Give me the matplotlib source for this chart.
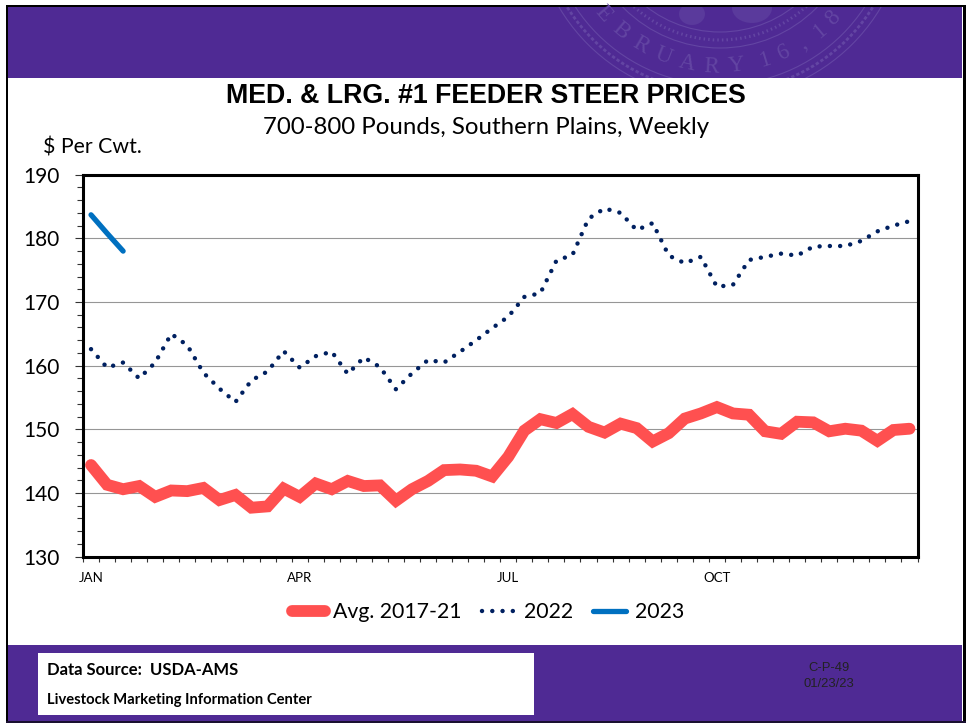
# libraries
import numpy as np
from matplotlib import pyplot as plt
from matplotlib.patches import Rectangle, Circle, Ellipse


W, H = 966, 723

avg_2017_21 = [144.4, 141.3, 140.6, 141.1, 139.4, 140.4, 140.3, 140.8, 138.9, 139.7,
	137.7, 137.9, 140.7, 139.4, 141.5, 140.6, 141.9, 141.1, 141.2, 138.8,
	140.6, 141.9, 143.6, 143.7, 143.5, 142.6, 145.7, 149.8, 151.6, 151.0,
	152.4, 150.4, 149.5, 150.9, 150.2, 148.1, 149.4, 151.7, 152.5, 153.5,
	152.5, 152.3, 149.7, 149.3, 151.2, 151.1, 149.7, 150.1, 149.8, 148.2,
	149.9, 150.1]
prices_2022 = [162.6, 159.7, 160.5, 158.0, 160.5, 165.0, 163.2, 158.9, 156.4, 154.3,
	157.7, 159.1, 162.3, 159.7, 161.5, 162.2, 158.7, 161.3, 159.8, 156.3,
	158.8, 160.9, 160.5, 162.2, 164.0, 165.9, 167.7, 170.8, 171.4, 176.5,
	177.4, 183.1, 184.7, 184.0, 181.3, 182.4, 177.3, 176.1, 177.1, 172.4,
	172.7, 176.6, 177.1, 177.6, 177.3, 178.7, 178.8, 178.8, 179.6, 181.1,
	182.0, 182.7]
prices_2023 = [183.7, 180.8, 178.0]

month_labels = ['JAN', 'APR', 'JUL', 'OCT']
month_weeks = [0, 13, 26, 39]
y_ticks = [130, 140, 150, 160, 170, 180, 190]

purple = '#4F2A94'
seal = '#6345A3'

plt.rcParams['font.family'] = ['Lato', 'DejaVu Sans']

fig = plt.figure(figsize=(W / 100, H / 100), dpi=100)

# background slide, drawn in pixel coordinates
bg = fig.add_axes([0, 0, 1, 1])
bg.set_xlim(0, W)
bg.set_ylim(H, 0)
bg.axis('off')
bg.add_patch(Rectangle((0, 0), W, H, fc='white', ec='none'))
band = bg.add_patch(Rectangle((7, 6), W - 11, 72, fc=purple, ec='none'))
bg.add_patch(Rectangle((7, 645), W - 11, 77, fc=purple, ec='none'))

# faint seal in the top band
sx, sy = 720, -88
for r, lw, ls in [(187, 0.8, '-'), (173, 0.8, '-'), (180, 2.0, (0, (1.2, 0.8))),
		(136, 0.8, '-'), (120, 0.8, '-'), (128, 2.2, (0, (0.5, 1.0)))]:
	ring = bg.add_patch(Circle((sx, sy), r, fc='none', ec=seal, lw=lw, ls=ls))
	ring.set_clip_path(band)
for x0, y0, w0, h0 in [(692, 14, 26, 22), (752, 8, 40, 30)]:
	blob = bg.add_patch(Ellipse((x0, y0), w0, h0, fc='#5A3A9C', ec='none'))
	blob.set_clip_path(band)

seal_chars = list('EBRUARY') + list('16,') + list('18')
seal_angles = list(np.linspace(139, 84, 7)) + list(np.linspace(73, 58, 3)) + [50, 43]
for ch, a in zip(seal_chars, seal_angles):
	t = bg.text(sx + 155 * np.cos(np.radians(a)), sy + 155 * np.sin(np.radians(a)), ch,
		color=seal, fontsize=16.5, family='Liberation Serif', rotation=90 - a,
		ha='center', va='center', rotation_mode='anchor')
	t.set_clip_path(band)

# black slide frame
bg.add_patch(Rectangle((6, 5), 2, H - 6, fc='black', ec='none'))
bg.add_patch(Rectangle((W - 3, 5), 3, H - 5, fc='black', ec='none'))
bg.add_patch(Rectangle((6, 5), W - 6, 2.2, fc='black', ec='none'))
bg.add_patch(Rectangle((6, H - 2), W - 6, 2, fc='#1A1030', ec='none'))

bg.add_patch(Rectangle((38, 653), 496, 62, fc='white', ec='none'))
bg.text(47, 670, 'Data Source:  USDA-AMS', fontsize=12, fontweight='bold', va='center')
bg.text(47, 700, 'Livestock Marketing Information Center', fontsize=10.6, fontweight='bold', va='center')
bg.text(829, 668, 'C-P-49', fontsize=9.4, family='Liberation Sans', color='#222222', ha='center', va='center')
bg.text(829, 684, '01/23/23', fontsize=9.4, family='Liberation Sans', color='#222222', ha='center', va='center')

bg.text(486, 96, 'MED. & LRG. #1 FEEDER STEER PRICES', fontsize=19.25, fontweight='bold',
	family='Liberation Sans', ha='center', va='center')
bg.text(486, 128, '700-800 Pounds, Southern Plains, Weekly', fontsize=17.3, ha='center', va='center')
bg.text(43, 148, '$ Per Cwt.', fontsize=15.3, va='center')

# the chart itself
left, right, top, bottom = 83, 917.5, 174.7, 556.7
ax = fig.add_axes([left / W, 1 - bottom / H, (right - left) / W, (bottom - top) / H])
ax.patch.set_alpha(0)

weeks = np.arange(52)
ax.plot(weeks, avg_2017_21, color='#FF5050', lw=8.5, solid_capstyle='round',
	solid_joinstyle='miter', label='Avg. 2017-21')
ax.plot(weeks, prices_2022, color='#002060', lw=3.2, linestyle=(0, (0.01, 2.3)),
	dash_capstyle='round', label='2022')
ax.plot(weeks[:len(prices_2023)], prices_2023, color='#0070C0', lw=3.8,
	solid_capstyle='round', label='2023')

ax.set_xlim(-0.5, 51.5)
ax.set_ylim(130, 190)
ax.set_yticks(y_ticks)
ax.set_yticks(np.arange(130, 191, 2), minor=True)
ax.set_xticks(np.arange(-0.5, 52, 1), minor=True)
ax.set_xticks(month_weeks)
ax.set_xticklabels(month_labels, fontsize=9.5)
ax.tick_params(axis='x', which='major', length=0, pad=11)
ax.tick_params(axis='x', which='minor', length=3.5, width=0.8, color='#333333')
ax.tick_params(axis='y', which='major', length=5.8, width=0.8, labelsize=15, pad=11, color='#333333')
ax.tick_params(axis='y', which='minor', length=4.3, width=0.8, color='#333333')
ax.grid(axis='y', which='major', color='#969696', lw=0.8, zorder=0)
ax.set_axisbelow(True)
for s in ax.spines.values():
	s.set_linewidth(2.2)

handles, labels = ax.get_legend_handles_labels()
fig.legend(handles, labels, loc='center', bbox_to_anchor=(488 / W, 1 - 612 / H), ncol=3,
	frameon=False, fontsize=15.3, handlelength=1.55, handletextpad=0.42, columnspacing=0.95)

plt.savefig('out.png', dpi=100)
